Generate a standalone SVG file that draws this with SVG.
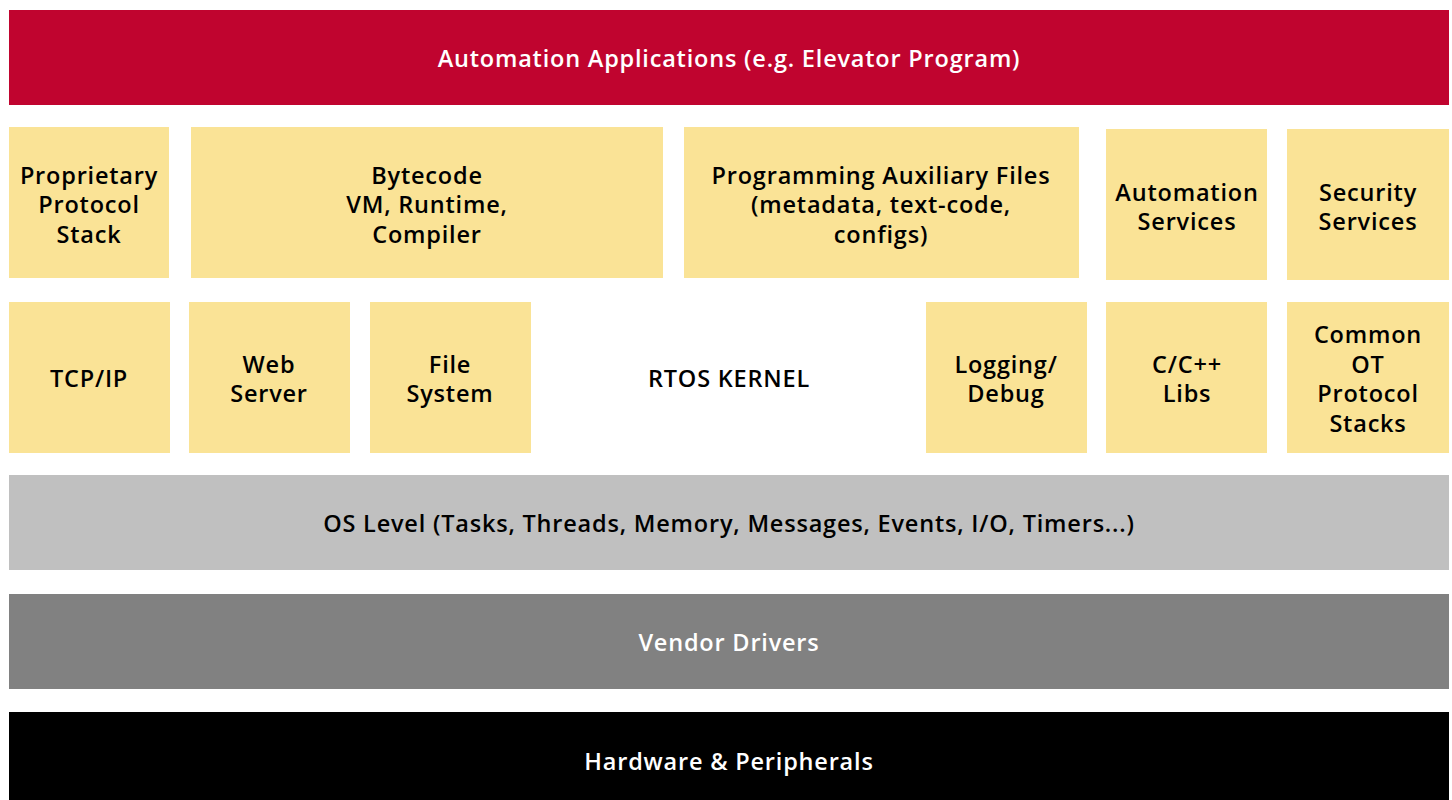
<svg xmlns="http://www.w3.org/2000/svg" width="1452" height="800" viewBox="0 0 1452 800">
<style>
text{font-family:"Open Sans","Liberation Sans",sans-serif;font-size:23.5px;font-weight:600;text-anchor:middle;letter-spacing:0.8px}
.y{fill:#FAE396}
.k{fill:#000}
.w{fill:#fff}
</style>
<rect width="1452" height="800" fill="#fff"/>
<g id="apps"><rect x="9" y="10" width="1440" height="95" fill="#C0042F"/><text class="w" x="729" y="67">Automation Applications (e.g. Elevator Program)</text></g>
<g id="proprietary"><rect class="y" x="9" y="127" width="160" height="151"/><text class="k" x="89" y="184">Proprietary</text><text class="k" x="89" y="213">Protocol</text><text class="k" x="89" y="243">Stack</text></g>
<g id="bytecode"><rect class="y" x="191" y="127" width="472" height="151"/><text class="k" x="427" y="184">Bytecode</text><text class="k" x="427" y="213">VM, Runtime,</text><text class="k" x="427" y="243">Compiler</text></g>
<g id="progaux"><rect class="y" x="684" y="127" width="395" height="151"/><text class="k" x="881" y="184">Programming Auxiliary Files</text><text class="k" x="881" y="213">(metadata, text-code,</text><text class="k" x="881" y="243">configs)</text></g>
<g id="autoserv"><rect class="y" x="1106" y="129" width="161" height="151"/><text class="k" x="1187" y="201">Automation</text><text class="k" x="1187" y="230">Services</text></g>
<g id="secserv"><rect class="y" x="1287" y="129" width="162" height="151"/><text class="k" x="1368" y="201">Security</text><text class="k" x="1368" y="230">Services</text></g>
<g id="tcpip"><rect class="y" x="9" y="302" width="161" height="151"/><text class="k" x="89" y="387">TCP/IP</text></g>
<g id="webserver"><rect class="y" x="189" y="302" width="161" height="151"/><text class="k" x="269" y="373">Web</text><text class="k" x="269" y="402">Server</text></g>
<g id="filesystem"><rect class="y" x="370" y="302" width="161" height="151"/><text class="k" x="450" y="373">File</text><text class="k" x="450" y="402">System</text></g>
<g id="rtos"><text class="k" x="729" y="387">RTOS KERNEL</text></g>
<g id="logging"><rect class="y" x="926" y="302" width="161" height="151"/><text class="k" x="1006" y="373">Logging/</text><text class="k" x="1006" y="402">Debug</text></g>
<g id="libs"><rect class="y" x="1106" y="302" width="161" height="151"/><text class="k" x="1187" y="373">C/C++</text><text class="k" x="1187" y="402">Libs</text></g>
<g id="otstacks"><rect class="y" x="1287" y="302" width="162" height="151"/><text class="k" x="1368" y="343">Common</text><text class="k" x="1368" y="373">OT</text><text class="k" x="1368" y="402">Protocol</text><text class="k" x="1368" y="432">Stacks</text></g>
<g id="oslevel"><rect x="9" y="475" width="1440" height="95" fill="#C0C0C0"/><text class="k" x="729" y="532">OS Level (Tasks, Threads, Memory, Messages, Events, I/O, Timers...)</text></g>
<g id="drivers"><rect x="9" y="594" width="1440" height="95" fill="#818181"/><text class="w" x="729" y="651">Vendor Drivers</text></g>
<g id="hardware"><rect x="9" y="712" width="1440" height="88" fill="#000"/><text class="w" x="729" y="770">Hardware &amp; Peripherals</text></g>
<g id="connectors"/>
</svg>
